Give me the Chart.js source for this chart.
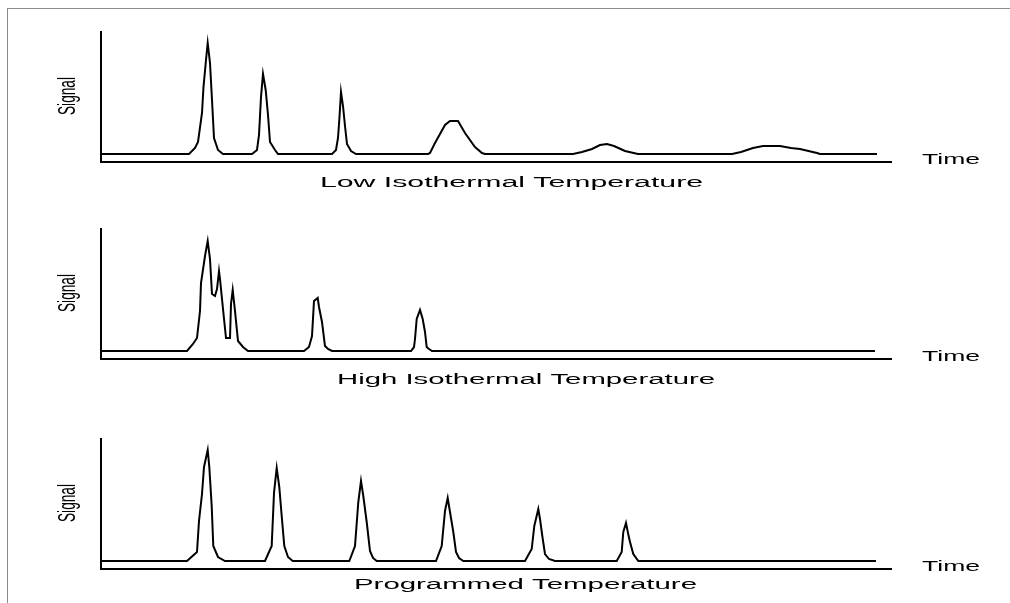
<!DOCTYPE html>
<html lang="en">
<head>
    <meta charset="UTF-8">
    <title>Chromatograms at different column temperatures</title>
    <script src="https://cdn.jsdelivr.net/npm/chart.js"></script>
    <style>
        body {
            margin: 0;
            background: #fff;
        }
        #page {
            position: relative;
            width: 1010px;
            height: 603px;
            overflow: hidden;
        }
        #frame {
            position: absolute;
            left: 7px;
            top: 8px;
            right: -2px;
            bottom: -2px;
            border-top: 1px solid #8c8c8c;
            border-left: 1px solid #8c8c8c;
        }
        canvas {
            position: absolute;
            left: 0;
        }
    </style>
</head>
<body>
    <div id="page">
        <div id="frame"></div>
        <canvas id="lowIso" width="1010" height="196" style="top: 0px;"></canvas>
        <canvas id="highIso" width="1010" height="196" style="top: 197px;"></canvas>
        <canvas id="programmed" width="1010" height="196" style="top: 407px;"></canvas>
    </div>

    <script>
        // time (s) and detector signal (arb. units)
        const lowIsoTime = [0, 88, 94, 97, 101, 102.5, 105, 106.7, 109, 111, 113, 117, 122,
            151, 156, 158, 160, 162, 164.7, 167, 169, 174, 177,
            231, 235, 237, 238.5, 240, 242, 244, 246, 250, 255,
            327, 329, 334, 344, 349, 357, 364, 374, 381, 384,
            472, 481, 491, 499, 506, 513, 524, 537,
            631, 640, 652, 662, 679, 690, 699, 716, 719,
            776];
        const lowIsoSignal = [8, 8, 14, 20, 49, 75, 102, 119, 99, 62, 24, 12, 8,
            8, 12, 27, 65, 88, 72, 47, 20, 12, 8,
            8, 12, 24, 45, 70, 56, 36, 18, 11, 8,
            8, 9, 19, 37, 41, 41, 29, 15, 9, 8,
            8, 10, 13, 17, 18, 16, 11, 8,
            8, 10, 14, 16, 16, 14, 13, 9, 8,
            8];

        const highIsoTime = [0, 86, 92, 96, 99, 100, 104, 106.7, 109, 111, 114, 116, 118, 119, 122, 125, 129, 130, 131.7, 134, 137, 142, 147,
            203, 208, 211, 213, 216.7, 218, 221, 224, 227, 231,
            310, 313, 314, 315.7, 319, 321.7, 324, 325.7, 328, 331,
            774];
        const highIsoSignal = [8, 8, 15, 21, 48, 76, 103, 118, 100, 65, 63, 70, 88, 80, 50, 21, 21, 55, 69, 48, 18, 12, 8,
            8, 12, 23, 58, 61, 52, 37, 13, 10, 8,
            8, 12, 20, 40, 49, 40, 27, 12, 10, 8,
            8];

        const programmedTime = [0, 86, 96, 98, 101, 103, 106.7, 108.3, 110.7, 112.3, 117, 124,
            164, 170.7, 173, 175.7, 178.3, 180.7, 183.3, 187, 191.7,
            248.3, 254, 257.3, 260, 262.3, 265.7, 269, 272, 275.7,
            335, 340.7, 344, 346.7, 349, 352.3, 355, 358, 362.3,
            424, 430.7, 433.3, 437.3, 439, 441.3, 444, 448, 454,
            515.7, 520.7, 522.3, 525, 527, 529, 532.3, 537.3,
            775];
        const programmedSignal = [8, 8, 17, 48, 75, 102, 119, 102, 63, 23, 12, 8,
            8, 23, 76, 101, 82, 53, 23, 12, 8,
            8, 23, 67, 88, 73, 47, 18, 11, 8,
            8, 23, 58, 71, 57, 37, 17, 11, 8,
            8, 20, 43, 60, 50, 33, 15, 10, 8,
            8, 17, 37, 46, 36, 27, 15, 8,
            8];

        const panelTitles = ['Low Isothermal Temperature', 'High Isothermal Temperature', 'Programmed Temperature'];

        // draws text squeezed/stretched to a given width (the original uses a very wide bitmap font)
        function stretchText(ctx, text, x, y, width, font, angle, align) {
            ctx.save();
            ctx.font = font;
            ctx.textBaseline = 'alphabetic';
            ctx.textAlign = align;
            const natural = ctx.measureText(text).width;
            ctx.translate(x, y);
            ctx.rotate(angle);
            ctx.scale(width / natural, 1);
            ctx.fillText(text, 0, 0);
            ctx.restore();
        }

        const panelText = {
            id: 'panelText',
            afterDraw(chart, args, opts) {
                const ctx = chart.ctx;
                const area = chart.chartArea;
                ctx.save();
                ctx.fillStyle = '#000';
                stretchText(ctx, 'Signal', 75, area.top + 64, 38, '23px "Liberation Sans", Arial, sans-serif', -Math.PI / 2, 'center');
                stretchText(ctx, 'Time', 922, area.bottom + 2, 58, '14px "Liberation Sans", Arial, sans-serif', 0, 'left');
                stretchText(ctx, opts.title, opts.titleX, area.bottom + opts.titleDy, opts.titleW, '14px "Liberation Sans", Arial, sans-serif', 0, 'left');
                ctx.restore();
            }
        };

        function makePanel(canvasId, times, signals, title, titleX, titleW, titleDy) {
            const points = times.map((t, i) => ({ x: t, y: signals[i] }));
            return new Chart(document.getElementById(canvasId), {
                type: 'line',
                data: {
                    datasets: [{
                        data: points,
                        borderColor: '#000',
                        borderWidth: 2,
                        pointRadius: 0,
                        tension: 0,
                        fill: false,
                    }],
                },
                options: {
                    responsive: false,
                    animation: false,
                    devicePixelRatio: 1,
                    layout: {
                        padding: { left: 101, right: 119, top: 32, bottom: 34 },
                    },
                    scales: {
                        x: {
                            type: 'linear',
                            min: 0,
                            max: 790,
                            grid: { display: false, drawTicks: false },
                            ticks: { display: false },
                            border: { display: true, color: '#000', width: 2 },
                        },
                        y: {
                            min: 0,
                            max: 130,
                            grid: { display: false, drawTicks: false },
                            ticks: { display: false },
                            border: { display: true, color: '#000', width: 2 },
                        },
                    },
                    plugins: {
                        legend: { display: false },
                        tooltip: { enabled: false },
                        panelText: { title: title, titleX: titleX, titleW: titleW, titleDy: titleDy },
                    },
                },
                plugins: [panelText],
            });
        }

        makePanel('lowIso', lowIsoTime, lowIsoSignal, panelTitles[0], 320, 383, 25);
        makePanel('highIso', highIsoTime, highIsoSignal, panelTitles[1], 337, 378, 25);
        makePanel('programmed', programmedTime, programmedSignal, panelTitles[2], 354, 343, 20);
    </script>
</body>
</html>
